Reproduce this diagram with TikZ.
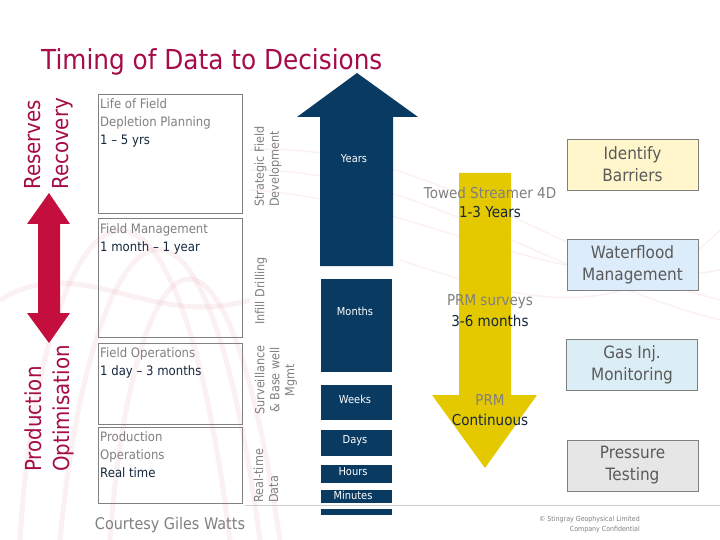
\documentclass[tikz,border=0pt]{standalone}
\usepackage{fontspec}
\setmainfont{DejaVu Sans}[FakeStretch=0.9]
\definecolor{titlered}{RGB}{165,12,72}
\definecolor{arrowred}{RGB}{196,14,62}
\definecolor{navy}{RGB}{8,58,98}
\definecolor{gold}{RGB}{228,200,0}
\definecolor{graytxt}{RGB}{128,128,128}
\definecolor{darktxt}{RGB}{20,40,62}
\definecolor{boxtxt}{RGB}{90,90,90}
\definecolor{fillyellow}{RGB}{255,246,204}
\definecolor{fillblue}{RGB}{220,236,250}
\definecolor{fillblue2}{RGB}{220,238,245}
\definecolor{fillgray}{RGB}{230,230,230}
\definecolor{bgpink}{RGB}{225,120,135}
\begin{document}
\begin{tikzpicture}[x=1pt,y=-1pt,
  leftbox/.style={draw=graytxt, line width=0.8pt},
  boxlabel/.style={anchor=north west, inner sep=0pt, align=left, text=graytxt, font=\fontsize{13}{18}\selectfont},
  sidelabel/.style={rotate=90, inner sep=0pt, text=graytxt, font=\fontsize{12.5}{15}\selectfont},
  bigside/.style={rotate=90, anchor=west, inner sep=0pt, align=left, text=titlered, font=\fontsize{22}{28}\selectfont},
  bar/.style={fill=navy},
  barlabel/.style={text=white, inner sep=0pt, font=\fontsize{11}{13}\selectfont},
  ylabel/.style={inner sep=0pt, font=\fontsize{15}{18}\selectfont},
  rightbox/.style={draw=graytxt, line width=0.8pt, minimum width=131pt, minimum height=51pt, align=center, text=boxtxt, font=\fontsize{17}{22}\selectfont},
  swirl/.style={draw=bgpink, draw opacity=0.10, line width=5pt},
  swirlthin/.style={draw=bgpink, draw opacity=0.10, line width=1.5pt}
]
\useasboundingbox (0,0) rectangle (720,540);
\fill[white] (0,0) rectangle (720,540);

% faint background swirls
\draw[swirl] (20,540) .. controls (40,200) and (170,60) .. (230,540);
\draw[swirl] (60,540) .. controls (90,220) and (200,90) .. (260,540);
\draw[swirl] (110,540) .. controls (130,260) and (220,130) .. (280,540);
\draw[swirl] (0,300) .. controls (80,250) and (150,330) .. (250,300);
\draw[swirlthin] (250,150) .. controls (420,140) and (560,260) .. (720,300);
\draw[swirlthin] (250,170) .. controls (420,170) and (560,280) .. (720,320);
\draw[swirlthin] (250,190) .. controls (420,200) and (560,300) .. (720,270);
\draw[swirlthin] (400,260) .. controls (520,300) and (620,330) .. (720,230);

% title
\node[anchor=base west, inner sep=0pt, text=titlered, font=\fontsize{27.5}{32}\selectfont] (title) at (41,70) {Timing of Data to Decisions};

% red double arrow
\fill[arrowred] (49,193) -- (70,224) -- (60,224) -- (60,313) -- (70,313) -- (49,343) -- (27,313) -- (38,313) -- (38,224) -- (27,224) -- cycle;
\node[bigside] (reserves) at (49,190) {Reserves\\Recovery};
\node[bigside] (prod) at (49,472) {Production\\Optimisation};

% left boxes
\draw[leftbox] (98.5,94) rectangle (242,213);
\draw[leftbox] (98.5,218) rectangle (242,337);
\draw[leftbox] (98.5,343) rectangle (242,424);
\draw[leftbox] (98.5,427) rectangle (242,503);
\node[boxlabel] (l1) at (100,98.5) {Life of Field\\Depletion Planning\\\textcolor{darktxt}{1 – 5 yrs}};
\node[boxlabel] (l2) at (100,223.5) {Field Management\\\textcolor{darktxt}{1 month – 1 year}};
\node[boxlabel] (l3) at (100,347.5) {Field Operations\\\textcolor{darktxt}{1 day – 3 months}};
\node[boxlabel] (l4) at (100,431.5) {Production\\Operations\\\textcolor{darktxt}{Real time}};

% side labels
\node[sidelabel, anchor=west, align=left] (s1) at (268,207) {Strategic Field\\Development};
\node[sidelabel, anchor=center] (s2) at (261,291) {Infill Drilling};
\node[sidelabel, anchor=center, align=center] (s3) at (276,380) {Surveillance\\\&{} Base well\\Mgmt};
\node[sidelabel, anchor=west, align=left] (s4) at (266,503) {Real-time\\Data};

% blue arrow and bars
\fill[navy] (320,117) -- (297,117) -- (357,73) -- (418,117) -- (393,117) -- (393,266) -- (320,266) -- cycle;
\fill[bar] (321,279) rectangle (392,372);
\fill[bar] (321,385) rectangle (392,420);
\fill[bar] (321,430) rectangle (392,456);
\fill[bar] (321,465) rectangle (392,483);
\fill[bar] (321,490) rectangle (392,503);
\fill[bar] (321,509) rectangle (392,515);
\node[barlabel] (years) at (354,159) {Years};
\node[barlabel] (months) at (355,311) {Months};
\node[barlabel] (weeks) at (355,399) {Weeks};
\node[barlabel] (days) at (355,441) {Days};
\node[barlabel] (hours) at (353,472) {Hours};
\node[barlabel] (minutes) at (353,495) {Minutes};

% yellow arrow
\fill[gold] (459,173) -- (511,173) -- (511,395) -- (537,395) -- (485,468) -- (432,395) -- (459,395) -- cycle;
\node[ylabel, text=graytxt] (tow) at (490,193) {Towed Streamer 4D};
\node[ylabel, text=darktxt] (tow2) at (490,212) {1-3 Years};
\node[ylabel, text=graytxt] (prm) at (490,302) {PRM surveys};
\node[ylabel, text=darktxt] (prm2) at (490,321) {3-6 months};
\node[ylabel, text=graytxt] (prmc) at (490,400) {PRM};
\node[ylabel, text=darktxt] (prmc2) at (490,420) {Continuous};

% right boxes
\node[rightbox, fill=fillyellow] (ib) at (632.5,164.5) {Identify\\Barriers};
\node[rightbox, fill=fillblue] (wm) at (632.5,264.5) {Waterflood\\Management};
\node[rightbox, fill=fillblue2] (gi) at (632,365) {Gas Inj.\\Monitoring};
\node[rightbox, fill=fillgray] (pt) at (632.5,465.5) {Pressure\\Testing};

% bottom
\draw[black!20, line width=0.8pt] (245,505) -- (720,505);
\node[inner sep=0pt, text=graytxt, font=\fontsize{16}{19}\selectfont] (court) at (170,525) {Courtesy Giles Watts};
\node[anchor=east, inner sep=0pt, align=right, text=graytxt, font=\fontsize{7}{10}\selectfont] (copy) at (640,525) {© Stingray Geophysical Limited\\Company Confidential};
\end{tikzpicture}
\end{document}
